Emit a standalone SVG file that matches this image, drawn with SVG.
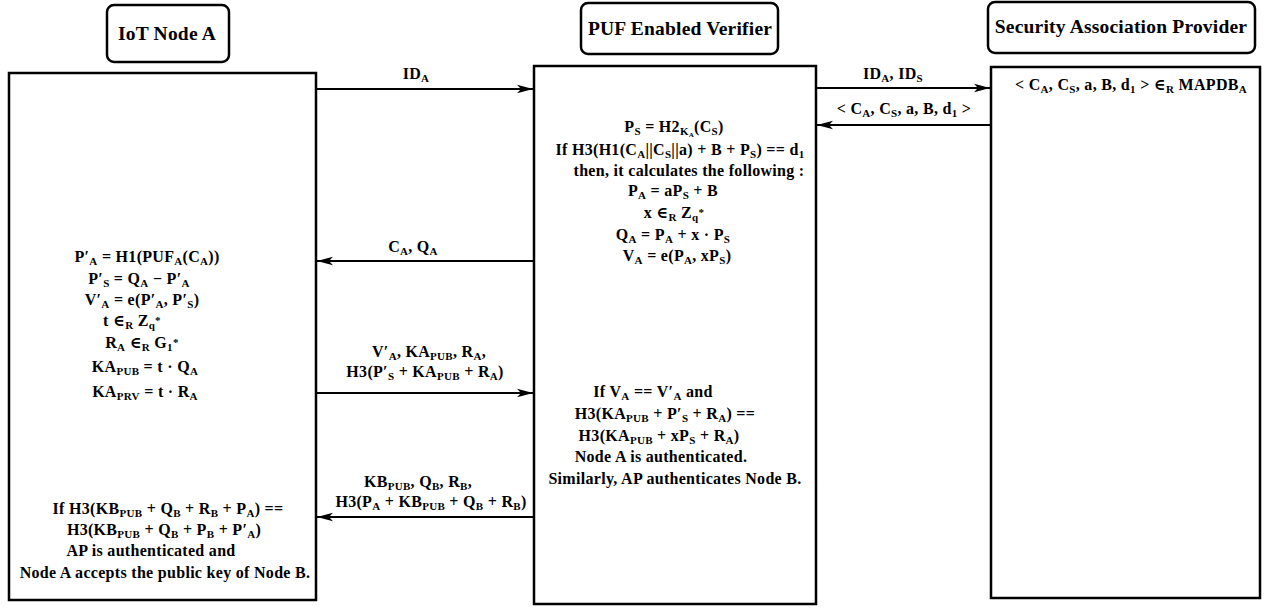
<svg xmlns="http://www.w3.org/2000/svg" width="1269" height="609" viewBox="0 0 1269 609" font-family="'Liberation Serif', 'DejaVu Serif', serif">
<style>
text{font-weight:bold;font-size:16px;text-anchor:middle;fill:#000;letter-spacing:0.3px}
.t{font-size:19.5px;letter-spacing:0.2px}
.s{font-size:11px}
.box{fill:#fff;stroke:#000;stroke-width:2.5}
.lbl{fill:#fff;stroke:#000;stroke-width:2.5}
.c{stroke:#000;stroke-width:2;fill:none;marker-end:url(#ah)}
</style>
<defs>
<marker id="ah" markerUnits="userSpaceOnUse" markerWidth="18" markerHeight="10" refX="16" refY="5" orient="auto">
<path d="M0,0.8 L16,5 L0,9.2 L4,5 z" fill="#000"/>
</marker>
</defs>
<rect width="1269" height="609" fill="#fff"/>

<g id="node-iot-label">
<rect class="lbl" x="107" y="5" width="122" height="57" rx="7"/>
<text class="t" x="167" y="40">IoT Node A</text>
</g>
<g id="node-puf-label">
<rect class="lbl" x="581" y="3" width="197" height="51" rx="7"/>
<text class="t" x="680" y="35">PUF Enabled Verifier</text>
</g>
<g id="node-sap-label">
<rect class="lbl" x="988" y="2" width="267" height="51" rx="7"/>
<text class="t" x="1121" y="33">Security Association Provider</text>
</g>

<g id="node-iot">
<rect class="box" x="9" y="73" width="307" height="527"/>
<text x="147" y="262">P′<tspan class="s" dy="3">A</tspan><tspan dy="-3"> = H1(PUF</tspan><tspan class="s" dy="3">A</tspan><tspan dy="-3">(C</tspan><tspan class="s" dy="3">A</tspan><tspan dy="-3">))</tspan></text>
<text x="139" y="284">P′<tspan class="s" dy="3">S</tspan><tspan dy="-3"> = Q</tspan><tspan class="s" dy="3">A</tspan><tspan dy="-3"> − P′</tspan><tspan class="s" dy="3">A</tspan></text>
<text x="142" y="305">V′<tspan class="s" dy="3">A</tspan><tspan dy="-3"> = e(P′</tspan><tspan class="s" dy="3">A</tspan><tspan dy="-3">, P′</tspan><tspan class="s" dy="3">S</tspan><tspan dy="-3">)</tspan></text>
<text x="132" y="326">t  ∈<tspan class="s" dy="3">R</tspan><tspan dy="-3"> Z</tspan><tspan class="s" dy="3">q</tspan><tspan class="s" dy="-5">*</tspan></text>
<text x="142" y="348">R<tspan class="s" dy="3">A</tspan><tspan dy="-3">  ∈</tspan><tspan class="s" dy="3">R</tspan><tspan dy="-3">  G</tspan><tspan class="s" dy="3">1</tspan><tspan class="s" dy="-5">*</tspan></text>
<text x="145" y="372">KA<tspan class="s" dy="3">PUB</tspan><tspan dy="-3"> = t · Q</tspan><tspan class="s" dy="3">A</tspan></text>
<text x="145" y="397">KA<tspan class="s" dy="3">PRV</tspan><tspan dy="-3"> = t · R</tspan><tspan class="s" dy="3">A</tspan></text>
<text x="168" y="514">If H3(KB<tspan class="s" dy="3">PUB</tspan><tspan dy="-3"> + Q</tspan><tspan class="s" dy="3">B</tspan><tspan dy="-3"> + R</tspan><tspan class="s" dy="3">B</tspan><tspan dy="-3"> + P</tspan><tspan class="s" dy="3">A</tspan><tspan dy="-3">) ==</tspan></text>
<text x="164" y="535">H3(KB<tspan class="s" dy="3">PUB</tspan><tspan dy="-3"> + Q</tspan><tspan class="s" dy="3">B</tspan><tspan dy="-3"> + P</tspan><tspan class="s" dy="3">B</tspan><tspan dy="-3"> + P′</tspan><tspan class="s" dy="3">A</tspan><tspan dy="-3">)</tspan></text>
<text x="151" y="556">AP is authenticated and</text>
<text x="165" y="578">Node A accepts the public key of Node B.</text>
</g>

<g id="node-verifier">
<rect class="box" x="534" y="66" width="282" height="538"/>
<text x="674" y="132">P<tspan class="s" dy="3">S</tspan><tspan dy="-3"> = H2</tspan><tspan class="s" dy="3">K</tspan><tspan style="font-size:7px" dy="2">A</tspan><tspan dy="-5">(C</tspan><tspan class="s" dy="3">S</tspan><tspan dy="-3">)</tspan></text>
<text x="680" y="155">If H3(H1(C<tspan class="s" dy="3">A</tspan><tspan dy="-3">||C</tspan><tspan class="s" dy="3">S</tspan><tspan dy="-3">||a) + B + P</tspan><tspan class="s" dy="3">S</tspan><tspan dy="-3">) == d</tspan><tspan class="s" dy="3">1</tspan></text>
<text x="689" y="176">then, it calculates the following :</text>
<text x="673" y="196">P<tspan class="s" dy="3">A</tspan><tspan dy="-3"> = aP</tspan><tspan class="s" dy="3">S</tspan><tspan dy="-3"> + B</tspan></text>
<text x="674" y="218">x  ∈<tspan class="s" dy="3">R</tspan><tspan dy="-3"> Z</tspan><tspan class="s" dy="3">q</tspan><tspan class="s" dy="-5">*</tspan></text>
<text x="673" y="240">Q<tspan class="s" dy="3">A</tspan><tspan dy="-3"> = P</tspan><tspan class="s" dy="3">A</tspan><tspan dy="-3"> + x  · P</tspan><tspan class="s" dy="3">S</tspan></text>
<text x="677" y="261">V<tspan class="s" dy="3">A</tspan><tspan dy="-3"> = e(P</tspan><tspan class="s" dy="3">A</tspan><tspan dy="-3">, xP</tspan><tspan class="s" dy="3">S</tspan><tspan dy="-3">)</tspan></text>
<text x="653" y="397">If V<tspan class="s" dy="3">A</tspan><tspan dy="-3"> == V′</tspan><tspan class="s" dy="3">A</tspan><tspan dy="-3"> and</tspan></text>
<text x="665" y="419">H3(KA<tspan class="s" dy="3">PUB</tspan><tspan dy="-3"> + P′</tspan><tspan class="s" dy="3">S</tspan><tspan dy="-3"> + R</tspan><tspan class="s" dy="3">A</tspan><tspan dy="-3">) ==</tspan></text>
<text x="659" y="441">H3(KA<tspan class="s" dy="3">PUB</tspan><tspan dy="-3"> + xP</tspan><tspan class="s" dy="3">S</tspan><tspan dy="-3"> + R</tspan><tspan class="s" dy="3">A</tspan><tspan dy="-3">)</tspan></text>
<text x="661" y="462">Node A is authenticated.</text>
<text x="675" y="484">Similarly,  AP authenticates Node B.</text>
</g>

<g id="node-sap">
<rect class="box" x="991" y="67" width="269" height="531"/>
<text x="1131" y="90">&lt; C<tspan class="s" dy="3">A</tspan><tspan dy="-3">, C</tspan><tspan class="s" dy="3">S</tspan><tspan dy="-3">, a, B, d</tspan><tspan class="s" dy="3">1</tspan><tspan dy="-3"> &gt; ∈</tspan><tspan class="s" dy="3">R</tspan><tspan dy="-3">  MAPDB</tspan><tspan class="s" dy="3">A</tspan></text>
</g>

<g id="connectors">
<line class="c" x1="317" y1="89" x2="533" y2="89"/>
<text x="416" y="79">ID<tspan class="s" dy="3">A</tspan></text>
<line class="c" x1="817" y1="88" x2="990" y2="88"/>
<text x="893" y="79">ID<tspan class="s" dy="3">A</tspan><tspan dy="-3">, ID</tspan><tspan class="s" dy="3">S</tspan></text>
<line class="c" x1="990" y1="125" x2="817" y2="125"/>
<text x="904" y="114">&lt; C<tspan class="s" dy="3">A</tspan><tspan dy="-3">, C</tspan><tspan class="s" dy="3">S</tspan><tspan dy="-3">, a, B, d</tspan><tspan class="s" dy="3">1</tspan><tspan dy="-3"> &gt;</tspan></text>
<line class="c" x1="533" y1="261" x2="317" y2="261"/>
<text x="413" y="252">C<tspan class="s" dy="3">A</tspan><tspan dy="-3">, Q</tspan><tspan class="s" dy="3">A</tspan></text>
<line class="c" x1="317" y1="393" x2="533" y2="393"/>
<text x="429" y="357">V′<tspan class="s" dy="3">A</tspan><tspan dy="-3">, KA</tspan><tspan class="s" dy="3">PUB</tspan><tspan dy="-3">, R</tspan><tspan class="s" dy="3">A</tspan><tspan dy="-3">,</tspan></text>
<text x="425" y="377">H3(P′<tspan class="s" dy="3">S</tspan><tspan dy="-3"> + KA</tspan><tspan class="s" dy="3">PUB</tspan><tspan dy="-3"> + R</tspan><tspan class="s" dy="3">A</tspan><tspan dy="-3">)</tspan></text>
<line class="c" x1="533" y1="517" x2="317" y2="517"/>
<text x="418" y="487">KB<tspan class="s" dy="3">PUB</tspan><tspan dy="-3">, Q</tspan><tspan class="s" dy="3">B</tspan><tspan dy="-3">, R</tspan><tspan class="s" dy="3">B</tspan><tspan dy="-3">,</tspan></text>
<text x="431" y="507">H3(P<tspan class="s" dy="3">A</tspan><tspan dy="-3"> + KB</tspan><tspan class="s" dy="3">PUB</tspan><tspan dy="-3"> + Q</tspan><tspan class="s" dy="3">B</tspan><tspan dy="-3"> + R</tspan><tspan class="s" dy="3">B</tspan><tspan dy="-3">)</tspan></text>
</g>
</svg>
